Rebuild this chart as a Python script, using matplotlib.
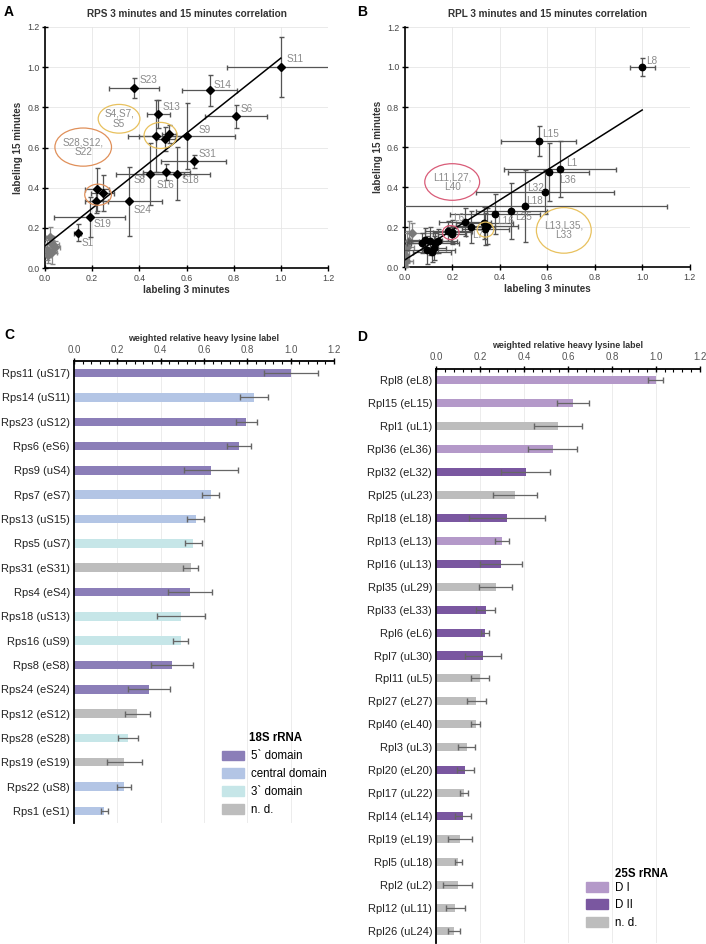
import matplotlib
matplotlib.use("Agg")
import matplotlib.pyplot as plt
from matplotlib.patches import Ellipse, Patch
from matplotlib.ticker import MultipleLocator
import numpy as np

plt.rcParams['font.family'] = ['Liberation Sans', 'DejaVu Sans']

# ---------------- Panel A data (RPS) ----------------
a_names = ["S11", "S23", "S14", "S6", "S13", "S9", "S4", "S7", "S5", "S31", "S8",
           "S16", "S18", "S24", "S28", "S12", "S22", "S19", "S1"]
a_x = [1.0, 0.377, 0.698, 0.81, 0.48, 0.603, 0.472, 0.51, 0.524, 0.631, 0.446,
       0.514, 0.558, 0.355, 0.22, 0.244, 0.218, 0.19, 0.138]
a_y = [1.0, 0.894, 0.884, 0.755, 0.768, 0.657, 0.657, 0.643, 0.668, 0.531, 0.469,
       0.479, 0.469, 0.332, 0.391, 0.373, 0.333, 0.254, 0.176]
a_xerr = [0.228, 0.105, 0.118, 0.133, 0.048, 0.203, 0.12, 0.04, 0.03, 0.138, 0.143,
          0.1, 0.143, 0.143, 0.05, 0.05, 0.05, 0.15, 0.014]
a_yerr = [0.15, 0.05, 0.075, 0.058, 0.07, 0.165, 0.18, 0.06, 0.045, 0.033, 0.155,
          0.04, 0.132, 0.173, 0.105, 0.09, 0.06, 0.1, 0.042]
a_gray_x = [0.014, 0.021, 0.028, 0.042, 0.008, 0.03]
a_gray_y = [0.063, 0.154, 0.121, 0.104, 0.09, 0.08]
a_gray_xerr = [0.01, 0.015, 0.03, 0.02, 0.01, 0.02]
a_gray_yerr = [0.04, 0.05, 0.04, 0.03, 0.05, 0.06]
a_fit = (0.935, 0.11)  # slope, intercept

# ---------------- Panel B data (RPL) ----------------
b_x = [1.0, 0.564, 0.654, 0.606, 0.592, 0.505, 0.449, 0.38, 0.255, 0.334, 0.345, 0.34,
       0.279, 0.2, 0.184, 0.2, 0.141, 0.128, 0.106, 0.085, 0.071, 0.092, 0.125, 0.113]
b_y = [1.0, 0.632, 0.49, 0.475, 0.375, 0.303, 0.281, 0.265, 0.225, 0.222, 0.205, 0.19,
       0.2, 0.175, 0.178, 0.165, 0.128, 0.118, 0.13, 0.135, 0.12, 0.085, 0.095, 0.075]
b_xerr = [0.053, 0.157, 0.235, 0.17, 0.29, 0.6, 0.15, 0.19, 0.11, 0.12, 0.13, 0.1,
          0.1, 0.08, 0.1, 0.06, 0.08, 0.1, 0.09, 0.07, 0.06, 0.12, 0.05, 0.08]
b_yerr = [0.045, 0.075, 0.14, 0.145, 0.11, 0.18, 0.14, 0.1, 0.07, 0.08, 0.09, 0.08,
          0.08, 0.06, 0.05, 0.04, 0.06, 0.05, 0.07, 0.06, 0.05, 0.07, 0.06, 0.05]
b_gray_x = [0.0, 0.01, 0.02, 0.0, 0.005, 0.03]
b_gray_y = [0.06, 0.1, 0.13, 0.0, 0.03, 0.17]
b_gray_xerr = [0.02, 0.03, 0.06, 0.01, 0.03, 0.09]
b_gray_yerr = [0.04, 0.08, 0.1, 0.02, 0.05, 0.05]
b_fit = (0.75, 0.035)

# ---------------- Panel C data ----------------
c_labels = ["Rps11 (uS17)", "Rps14 (uS11)", "Rps23 (uS12)", "Rps6 (eS6)", "Rps9 (uS4)",
            "Rps7 (eS7)", "Rps13 (uS15)", "Rps5 (uS7)", "Rps31 (eS31)", "Rps4 (eS4)",
            "Rps18 (uS13)", "Rps16 (uS9)", "Rps8 (eS8)", "Rps24 (eS24)", "Rps12 (eS12)",
            "Rps28 (eS28)", "Rps19 (eS19)", "Rps22 (uS8)", "Rps1 (eS1)"]
c_values = [1.0, 0.829, 0.796, 0.76, 0.633, 0.63, 0.562, 0.551, 0.538, 0.535,
            0.495, 0.492, 0.453, 0.346, 0.293, 0.249, 0.233, 0.23, 0.14]
c_err = [0.125, 0.065, 0.047, 0.055, 0.125, 0.04, 0.04, 0.039, 0.036, 0.1,
         0.11, 0.033, 0.098, 0.098, 0.058, 0.047, 0.083, 0.032, 0.017]
c_domain = ["5", "c", "5", "5", "5", "c", "c", "3", "n", "5",
            "3", "3", "5", "5", "n", "3", "n", "c", "c"]
c_domain_names = ["5` domain", "central domain", "3` domain", "n. d."]
c_domain_keys = ["5", "c", "3", "n"]

# ---------------- Panel D data ----------------
d_labels = ["Rpl8 (eL8)", "Rpl15 (eL15)", "Rpl1 (uL1)", "Rpl36 (eL36)", "Rpl32 (eL32)",
            "Rpl25 (uL23)", "Rpl18 (eL18)", "Rpl13 (eL13)", "Rpl16 (uL13)", "Rpl35 (uL29)",
            "Rpl33 (eL33)", "Rpl6 (eL6)", "Rpl7 (uL30)", "Rpl11 (uL5)", "Rpl27 (eL27)",
            "Rpl40 (eL40)", "Rpl3 (uL3)", "Rpl20 (eL20)", "Rpl17 (uL22)", "Rpl14 (eL14)",
            "Rpl19 (eL19)", "Rpl5 (uL18)", "Rpl2 (uL2)", "Rpl12 (uL11)", "Rpl26 (uL24)"]
d_values = [1.0, 0.622, 0.553, 0.53, 0.407, 0.357, 0.322, 0.299, 0.296, 0.27,
            0.225, 0.223, 0.213, 0.199, 0.182, 0.179, 0.138, 0.132, 0.125, 0.122,
            0.109, 0.1, 0.097, 0.087, 0.082]
d_err = [0.034, 0.072, 0.109, 0.11, 0.111, 0.1, 0.173, 0.032, 0.096, 0.077,
         0.043, 0.018, 0.084, 0.039, 0.043, 0.019, 0.039, 0.039, 0.018, 0.038,
         0.055, 0.017, 0.067, 0.043, 0.028]
d_domain = ["1", "1", "n", "1", "2", "n", "2", "1", "2", "n",
            "2", "2", "2", "n", "n", "n", "n", "2", "n", "2",
            "n", "n", "n", "n", "n"]
d_domain_names = ["D I", "D II", "n. d."]
d_domain_keys = ["1", "2", "n"]

# ---------------- styles ----------------
c_colors = {"5": "#8b7eb8", "c": "#b3c5e5", "3": "#c6e6e8", "n": "#bdbdbd"}
d_colors = {"1": "#b499c9", "2": "#7a57a0", "n": "#bdbdbd"}
label_gray = "#8a8a8a"
err_col = "#555555"

fig = plt.figure(figsize=(7.06, 9.44), dpi=100)
W, H = 706, 944


def px_axes(left, top, right, bottom):
    return fig.add_axes([left / W, 1 - bottom / H, (right - left) / W, (bottom - top) / H])


def style_scatter(ax, title):
    ax.set_xlim(0, 1.2)
    ax.set_ylim(0, 1.2)
    ax.xaxis.set_major_locator(MultipleLocator(0.2))
    ax.yaxis.set_major_locator(MultipleLocator(0.2))
    ax.xaxis.set_major_formatter(matplotlib.ticker.FormatStrFormatter('%.1f'))
    ax.yaxis.set_major_formatter(matplotlib.ticker.FormatStrFormatter('%.1f'))
    ax.grid(True, color="#e6e6e6", lw=0.6, zorder=0)
    ax.set_axisbelow(True)
    for s in ["top", "right"]:
        ax.spines[s].set_visible(False)
    for s in ["left", "bottom"]:
        ax.spines[s].set_linewidth(1.2)
    ax.tick_params(direction="inout", length=4, width=1, labelsize=6.3, colors="black",
                   labelcolor="#444444", pad=2)
    ax.set_title(title, fontsize=7.2, fontweight="bold", color="#333333", pad=7)
    ax.set_xlabel("labeling 3 minutes", fontsize=7.1, fontweight="bold", color="#333333", labelpad=2)
    ax.set_ylabel("labeling 15 minutes", fontsize=7.1, fontweight="bold", color="#333333", labelpad=3)


# ---------------- Panel A ----------------
axA = px_axes(45, 27, 328, 268)
style_scatter(axA, "RPS 3 minutes and 15 minutes correlation")
axA.errorbar(a_gray_x, a_gray_y, xerr=a_gray_xerr, yerr=a_gray_yerr, fmt="D", color="#7a7a7a",
             ms=4, ecolor="#888888", elinewidth=0.9, capsize=1.8, zorder=3)
axA.errorbar(a_x, a_y, xerr=a_xerr, yerr=a_yerr, fmt="D", color="black", ms=4.5,
             ecolor=err_col, elinewidth=0.9, capsize=1.8, zorder=4)
fx = np.array([0.0, 1.0])
axA.plot(fx, a_fit[0] * fx + a_fit[1], color="black", lw=1.1, zorder=5)
a_lab_pos = {"S11": (1.024, 1.04), "S23": (0.4, 0.934), "S14": (0.713, 0.912), "S6": (0.83, 0.79),
             "S13": (0.497, 0.804), "S9": (0.65, 0.685), "S31": (0.652, 0.566), "S8": (0.377, 0.436),
             "S16": (0.473, 0.411), "S18": (0.579, 0.436), "S24": (0.377, 0.287),
             "S19": (0.205, 0.217), "S1": (0.153, 0.124)}
for name, (tx, ty) in a_lab_pos.items():
    axA.text(tx, ty, name, fontsize=7.2, color=label_gray, ha="left", va="center", zorder=6)
axA.add_patch(Ellipse((0.162, 0.602), 0.24, 0.19, fill=False, ec="#e0905a", lw=0.9, zorder=6))
axA.text(0.162, 0.602, "S28,S12,\nS22", fontsize=7.2, color=label_gray, ha="center", va="center",
         linespacing=0.95, zorder=6)
axA.add_patch(Ellipse((0.314, 0.743), 0.177, 0.143, fill=False, ec="#e8c15e", lw=0.9, zorder=6))
axA.text(0.314, 0.743, "S4,S7,\nS5", fontsize=7.2, color=label_gray, ha="center", va="center",
         linespacing=0.95, zorder=6)
axA.add_patch(Ellipse((0.49, 0.66), 0.14, 0.13, fill=False, ec="#e8c15e", lw=0.9, zorder=6))
axA.add_patch(Ellipse((0.225, 0.365), 0.113, 0.105, fill=False, ec="#e0905a", lw=0.9, zorder=6))

# ---------------- Panel B ----------------
axB = px_axes(404.7, 27, 689.7, 267)
style_scatter(axB, "RPL 3 minutes and 15 minutes correlation")
axB.errorbar(b_gray_x, b_gray_y, xerr=b_gray_xerr, yerr=b_gray_yerr, fmt="D", color="#7a7a7a",
             ms=4, ecolor="#888888", elinewidth=0.9, capsize=1.8, zorder=3)
axB.errorbar(b_x, b_y, xerr=b_xerr, yerr=b_yerr, fmt="o", color="black", ms=4.6,
             ecolor=err_col, elinewidth=0.9, capsize=1.8, zorder=4)
axB.plot(fx, b_fit[0] * fx + b_fit[1], color="black", lw=1.1, zorder=5)
b_lab_pos = {"L8": (1.017, 1.03), "L15": (0.578, 0.667), "L1": (0.68, 0.52), "L36": (0.65, 0.433),
             "L32": (0.515, 0.397), "L18": (0.512, 0.328), "L25": (0.466, 0.25), "L16": (0.39, 0.23),
             "L6": (0.206, 0.247), "L7": (0.285, 0.162)}
for name, (tx, ty) in b_lab_pos.items():
    axB.text(tx, ty, name, fontsize=7.2, color=label_gray, ha="left", va="center", zorder=6)
axB.add_patch(Ellipse((0.2, 0.425), 0.231, 0.183, fill=False, ec="#d95c78", lw=0.9, zorder=6))
axB.text(0.2, 0.425, "L11,L27,\nL40", fontsize=7.2, color=label_gray, ha="center", va="center",
         linespacing=0.95, zorder=6)
axB.add_patch(Ellipse((0.67, 0.183), 0.231, 0.228, fill=False, ec="#e8c15e", lw=0.9, zorder=6))
axB.text(0.67, 0.183, "L13,L35,\nL33", fontsize=7.2, color=label_gray, ha="center", va="center",
         linespacing=0.95, zorder=6)
axB.add_patch(Ellipse((0.194, 0.172), 0.07, 0.07, fill=False, ec="#d95c78", lw=0.9, zorder=6))
axB.add_patch(Ellipse((0.34, 0.187), 0.07, 0.075, fill=False, ec="#e8c15e", lw=0.9, zorder=6))


def style_bars(ax, n):
    ax.set_xlim(0, 1.2)
    ax.set_ylim(n - 0.5, -0.5)
    ax.xaxis.tick_top()
    ax.xaxis.set_label_position("top")
    ax.xaxis.set_major_locator(MultipleLocator(0.2))
    ax.xaxis.set_minor_locator(MultipleLocator(0.04))
    ax.xaxis.set_major_formatter(matplotlib.ticker.FormatStrFormatter('%.1f'))
    ax.tick_params(axis="x", which="major", direction="inout", length=5, width=1,
                   labelsize=7, labelcolor="#555555", pad=2)
    ax.tick_params(axis="x", which="minor", direction="in", length=2.5, width=0.8)
    ax.tick_params(axis="y", length=0, labelsize=8, pad=3, labelcolor="#222222")
    ax.grid(True, axis="x", color="#ececec", lw=0.7)
    ax.set_axisbelow(True)
    ax.spines["top"].set_linewidth(1.3)
    ax.spines["left"].set_linewidth(1.3)
    ax.spines["right"].set_visible(False)
    ax.spines["bottom"].set_visible(False)
    ax.set_xlabel("weighted relative heavy lysine label", fontsize=6.4, fontweight="bold",
                  color="#333333", labelpad=3)


def domain_legend(ax, handles, names, title, anchor, title_xy):
    ax.legend(handles, names, loc="upper left", bbox_to_anchor=anchor, frameon=False,
              fontsize=8.3, handlelength=1.9, handleheight=0.95, handletextpad=0.65,
              labelspacing=0.5, borderpad=0, borderaxespad=0)
    ax.text(title_xy[0], title_xy[1], title, transform=ax.transAxes, fontsize=8.3,
            fontweight="bold", ha="left", va="center")


# ---------------- Panel C ----------------
axC = px_axes(74, 361, 334, 823)
yc = np.arange(len(c_labels))
axC.barh(yc, c_values, height=0.35, color=[c_colors[d] for d in c_domain], zorder=2)
axC.errorbar(c_values, yc, xerr=c_err, fmt="none", ecolor="#666666", elinewidth=0.9,
             capsize=2.2, zorder=3)
axC.set_yticks(yc)
axC.set_yticklabels(c_labels)
style_bars(axC, len(c_labels))
domain_legend(axC, [Patch(color=c_colors[k]) for k in c_domain_keys], c_domain_names,
              "18S rRNA", (0.569, 0.157), (0.673, 0.184))

# ---------------- Panel D ----------------
axD = px_axes(436.3, 368.5, 699.7, 942.5)
yd = np.arange(len(d_labels))
axD.barh(yd, d_values, height=0.35, color=[d_colors[d] for d in d_domain], zorder=2)
axD.errorbar(d_values, yd, xerr=d_err, fmt="none", ecolor="#666666", elinewidth=0.9,
             capsize=2.2, zorder=3)
axD.set_yticks(yd)
axD.set_yticklabels(d_labels)
style_bars(axD, len(d_labels))
domain_legend(axD, [Patch(color=d_colors[k]) for k in d_domain_keys], d_domain_names,
              "25S rRNA", (0.568, 0.106), (0.678, 0.119))

# panel letters
for letter, (x, y) in {"A": (4, 12), "B": (357, 12), "C": (4, 335), "D": (357, 337)}.items():
    fig.text(x / W, 1 - y / H, letter, fontsize=10, fontweight="bold", va="center", ha="left")

fig.savefig("out.png", dpi=100)
